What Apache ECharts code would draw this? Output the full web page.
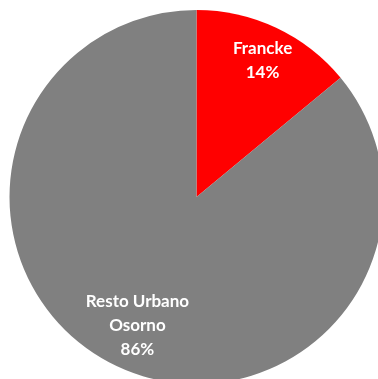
<!DOCTYPE html>
<html>
<head>
<meta charset="utf-8">
<script src="https://cdn.jsdelivr.net/npm/echarts@6/dist/echarts.min.js"></script>
<style>html,body{margin:0;padding:0;background:#fff}#c{width:378px;height:379px}</style>
</head>
<body>
<div id="c"></div>
<script>
var categories = ['Francke', 'Resto Urbano\nOsorno'];
var values = [14, 86];
var colors = ['#FF0000', '#808080'];
var labelShift = [[25, -49], [-18, 41]];

var chart = echarts.init(document.getElementById('c'), null, {renderer: 'canvas'});
chart.setOption({
  animation: false,
  series: [{
    type: 'pie',
    center: [196.5, 197],
    radius: [0, 187],
    startAngle: 90,
    clockwise: true,
    avoidLabelOverlap: false,
    data: categories.map(function (c, i) {
      return {name: c, value: values[i], itemStyle: {color: colors[i]}};
    }),
    label: {
      show: true,
      position: 'inside',
      formatter: function (p) { return p.name + '\n' + Math.round(p.percent) + '%'; },
      color: '#fff',
      fontFamily: 'Lato',
      fontWeight: 'bold',
      fontSize: 17,
      lineHeight: 24
    },
    labelLine: {show: false},
    labelLayout: function (p) {
      return {dx: labelShift[p.dataIndex][0], dy: labelShift[p.dataIndex][1]};
    },
    itemStyle: {borderWidth: 0},
    emphasis: {disabled: true}
  }]
});
</script>
</body>
</html>
